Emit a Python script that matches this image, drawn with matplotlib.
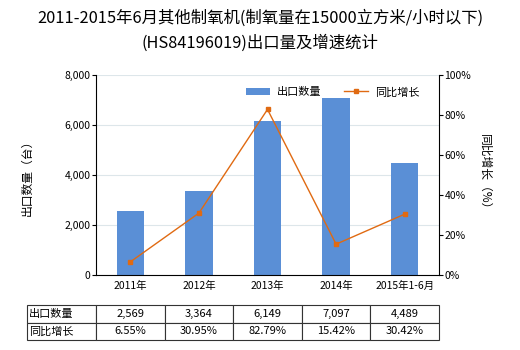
import matplotlib
matplotlib.use("Agg")
import matplotlib.pyplot as plt
from matplotlib.ticker import FuncFormatter

plt.rcParams['font.family'] = ['Noto Sans CJK SC', 'DejaVu Sans']

years = ['2011年', '2012年', '2013年', '2014年', '2015年1-6月']
qty = [2569, 3364, 6149, 7097, 4489]
growth = [6.55, 30.95, 82.79, 15.42, 30.42]
qty_labels = ['2,569', '3,364', '6,149', '7,097', '4,489']
growth_labels = ['6.55%', '30.95%', '82.79%', '15.42%', '30.42%']

bar_color = '#5a8fd6'
line_color = '#e06a12'

fig = plt.figure(figsize=(5.2, 3.5), dpi=100)
ax = fig.add_axes([96/520, 1-275/350, 343/520, 200/350])
ax2 = ax.twinx()

x = list(range(len(years)))
ax.bar(x, qty, width=0.4, color=bar_color, zorder=2, label='出口数量')
ax2.plot(x, growth, color=line_color, lw=1, marker='s', ms=3.5,
         zorder=3, label='同比增长')

ax.set_xlim(-0.5, len(years) - 0.5)
ax.set_ylim(0, 8000)
ax.set_yticks(range(0, 8001, 2000))
ax.yaxis.set_major_formatter(FuncFormatter(lambda v, p: f'{int(v):,}'))
ax2.set_ylim(0, 100)
ax2.set_yticks(range(0, 101, 20))
ax2.yaxis.set_major_formatter(FuncFormatter(lambda v, p: f'{int(v)}%'))

ax.grid(axis='y', color='#dde6ea', lw=0.8, zorder=0)
ax.set_xticks(x)
ax.set_xticklabels(years, fontsize=7.5)
ax.tick_params(axis='x', length=0, pad=4)
ax.tick_params(axis='y', labelsize=7.5, length=3, pad=1)
ax2.tick_params(axis='y', labelsize=7.5, length=3, pad=1)

for a in (ax, ax2):
    a.spines['top'].set_visible(False)
ax.spines['right'].set_visible(False)
ax2.spines['left'].set_visible(False)
ax2.spines['bottom'].set_visible(False)

ax.set_ylabel('出口数量（台）', fontsize=8.5, labelpad=22)
ax2.set_ylabel('同比增长（%）', fontsize=8.5, rotation=-90, labelpad=14)

fig.text(0.5, 1-18/350, '2011-2015年6月其他制氧机(制氧量在15000立方米/小时以下)',
         ha='center', va='center', fontsize=11.8)
fig.text(0.5, 1-43/350, '(HS84196019)出口量及增速统计',
         ha='center', va='center', fontsize=11.8)

h1, l1 = ax.get_legend_handles_labels()
h2, l2 = ax2.get_legend_handles_labels()
ax.legend(h1 + h2, l1 + l2, loc='upper center', bbox_to_anchor=(0.69, 0.99),
          ncol=2, frameon=False, fontsize=8, handlelength=2.2,
          columnspacing=2.0, handletextpad=0.6)

# data table under the axis
rows = [['出口数量'] + qty_labels, ['同比增长'] + growth_labels]
col_w = [69] + [68.6] * 5
tbl = ax.table(cellText=rows, colWidths=col_w, cellLoc='center',
               bbox=[-69/343, -65/200, 412/343, 35/200])
tbl.auto_set_font_size(False)
tbl.set_fontsize(8)
for (r, c), cell in tbl.get_celld().items():
    cell.set_linewidth(0.8)
    cell.set_edgecolor('#333333')
    if c == 0:
        cell.get_text().set_ha('left')
        cell.PAD = 0.03

fig.savefig('out.png', dpi=100)
